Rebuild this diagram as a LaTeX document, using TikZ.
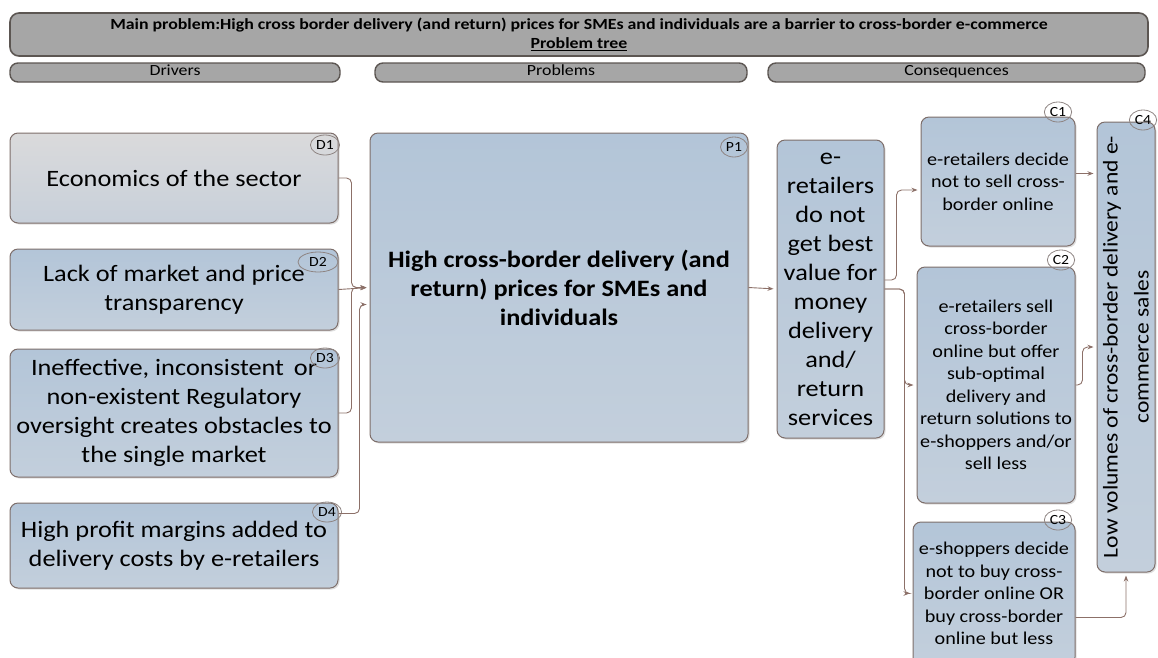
\documentclass[tikz,border=0pt]{standalone}
\usepackage{fontspec}
\setmainfont{Carlito}[FakeStretch=1.12]
\newfontfamily\headfont{Carlito}[FakeStretch=1.15]
\usepackage{xcolor}
\usetikzlibrary{shapes.geometric, arrows.meta, positioning, calc, shadows}

\definecolor{boxtop}{HTML}{B3C5D8}
\definecolor{boxbottom}{HTML}{C3CFDC}
\definecolor{greytop}{HTML}{DADADB}
\definecolor{greybottom}{HTML}{C8D0DA}
\definecolor{boxrim}{HTML}{7D6E6A}
\definecolor{pillgray}{HTML}{A6A6A6}
\definecolor{pillrim}{HTML}{5C5652}
\definecolor{linkbrown}{HTML}{8C7068}
\definecolor{tagrim}{HTML}{8E8482}

\begin{document}
\begin{tikzpicture}[x=1pt, y=-1pt, >={Stealth[length=6pt, width=4.5pt]}]
    \tikzset{
        banner/.style={rectangle, draw=pillrim, fill=pillgray, rounded corners=9pt, line width=1.6pt, minimum width=1138pt, minimum height=43pt, align=center, inner sep=0pt, font=\headfont\bfseries\fontsize{15.5}{19}\selectfont},
        header/.style={rectangle, draw=pillrim, fill=pillgray, rounded corners=8pt, line width=1.4pt, minimum height=19pt, inner sep=0pt, text height=10pt, text depth=3.5pt, font=\headfont\fontsize{15.5}{16}\selectfont},
        block/.style={rectangle, draw=boxrim, top color=boxtop, bottom color=boxbottom, rounded corners=8pt, line width=1pt, align=center, inner sep=0pt, font=\fontsize{23.5}{29}\selectfont, drop shadow={opacity=0.25, shadow xshift=1.5pt, shadow yshift=-1.5pt}},
        smallblock/.style={block, font=\fontsize{18}{22.5}\selectfont},
        tag/.style={ellipse, draw=tagrim, line width=0.8pt, inner sep=1.5pt, minimum height=20pt, minimum width=24pt, font=\fontsize{14}{14}\selectfont},
        line/.style={draw=linkbrown, ->, line width=0.9pt, rounded corners=5pt, shorten >=3pt}
    }
    \clip (0,0) rectangle (1158,657);

    % title and column heads
    \node (Main) [banner] at (579,34.5) {Main problem:High cross border delivery (and return) prices for SMEs and individuals are a barrier to cross-border e-commerce\\\underline{Problem tree}};
    \node (Drivers) [header, minimum width=330pt] at (175,72.5) {Drivers};
    \node (Problems) [header, minimum width=372pt] at (561,72.5) {Problems};
    \node (Consequences) [header, minimum width=377pt] at (956.5,72.5) {Consequences};

    % drivers
    \node (D1) [block, top color=greytop, bottom color=greybottom, minimum width=328pt, minimum height=90pt] at (174,178) {Economics of the sector};
    \node (D2) [block, minimum width=328pt, minimum height=81pt] at (174,289.5) {Lack of market and price\\transparency};
    \node (D3) [block, minimum width=328pt, minimum height=128pt] at (174,413) {Ineffective, inconsistent\, or\\non-existent Regulatory\\oversight creates obstacles to\\the single market};
    \node (D4) [block, minimum width=328pt, minimum height=85pt] at (174,545.5) {High profit margins added to\\delivery costs by e-retailers};

    % problems
    \node (P1) [block, minimum width=378pt, minimum height=309pt, font=\bfseries\fontsize{23.5}{29}\selectfont] at (559,287.5) {High cross-border delivery (and\\return) prices for SMEs and\\individuals};
    \node (M1) [block, minimum width=107pt, minimum height=298pt] at (830.5,289) {e-\\retailers\\do not\\get best\\value for\\money\\delivery\\and/\\return\\services};

    % consequences
    \node (C1) [smallblock, minimum width=154pt, minimum height=129pt] at (998,181.5) {e-retailers decide\\not to sell cross-\\border online};
    \node (C2) [smallblock, minimum width=158pt, minimum height=236pt] at (996,385) {e-retailers sell\\cross-border\\online but offer\\sub-optimal\\delivery and\\return solutions to\\e-shoppers and/or\\sell less};
    \node (C3) [smallblock, minimum width=162pt, minimum height=143pt] at (994,593.5) {e-shoppers decide\\not to buy cross-\\border online OR\\buy cross-border\\online but less};
    \node (C4) [block, rotate=90, minimum width=450pt, minimum height=58pt, font=\fontsize{21}{31}\selectfont] at (1126,347) {Low volumes of cross-border delivery and e-\\commerce sales};

    % tags
    \node (D1tag) [tag] at (325,145) {D1};
    \node (D2tag) [tag, minimum width=40pt] at (318,262) {D2};
    \node (D3tag) [tag] at (325,358) {D3};
    \node (D4tag) [tag] at (327,512) {D4};
    \node (P1tag) [tag] at (734,147) {P1};
    \node (C1tag) [tag] at (1058,112) {C1};
    \node (C2tag) [tag] at (1061,260) {C2};
    \node (C3tag) [tag] at (1058,520) {C3};
    \node (C4tag) [tag] at (1143,120) {C4};

    \coordinate (Join) at ($(P1.west)+(-18,0)$);

    \path [line] (D1.east) -| (Join) -- (P1.west);
    \path [line] (D2.east) -- (P1.west);
    \path [line] (D3.east) -| (Join) -- (P1.west);
    \path [line] ($(D4.north east)+(0,11)$) -| ($(P1.west)+(-10,17)$) -- ($(P1.west)+(0,17)$);
    \path [line] (P1.east) -- (M1.west);

    % Paths to consequences
    \path [line] ($(M1.east)+(0,-9)$) -| ($(C1.west)+(-24,8.5)$) -- ($(C1.west)+(0,8.5)$);
    \path [line] (M1.east) -| ($(C2.west)+(-12,0)$) -- (C2.west);
    \path [line] (M1.east) -| ($(C3.west)+(-8,0)$) -- (C3.west);
    \path [line] ($(C1.east)+(0,-8)$) -- ($(C1.east -| C4.north)+(0,-8)$);
    \path [line] (C2.east) -| ($(C4.north)+(-14,0)$) -- (C4.north);
    \path [line] ($(C3.east)+(0,24)$) -| (C4.west);
\end{tikzpicture}
\end{document}
